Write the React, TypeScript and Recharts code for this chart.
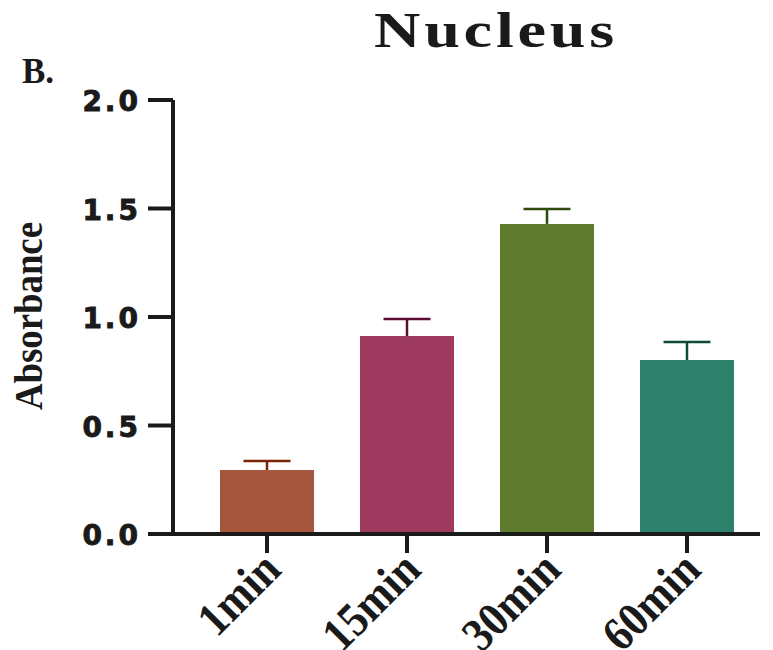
import React from "react";
import { BarChart, Bar, XAxis, YAxis, Cell } from "recharts";

const categories = ["1min", "15min", "30min", "60min"];
const means = [0.295, 0.912, 1.429, 0.802];
const sems = [0.041, 0.079, 0.069, 0.083];
const yTicks = [0, 0.5, 1.0, 1.5, 2.0];

const barColors = ["#A5563C", "#9E3A5E", "#5E7A2C", "#2D816A"];
const errColors = ["#7B2508", "#5C0C30", "#2E4A0C", "#0D4A3A"];

const data = categories.map((c, i) => ({ name: c, mean: means[i], sem: sems[i] }));

const INK = "#1a1a1a";

// rough Times Bold advance widths (em) to squeeze the labels a little
const EM: Record<string, number> = { m: 0.833, i: 0.278, n: 0.556 };
const emWidth = (s: string) =>
  s.split("").reduce((w, ch) => w + (EM[ch] ?? 0.5), 0);

// draws the upward half of the error bar on the stacked "sem" segment
const ErrShape = (props: any) => {
  const { x, y, width, height, index } = props;
  const cx = x + width / 2;
  const col = errColors[index];
  return (
    <g>
      <line x1={cx} y1={y + height} x2={cx} y2={y} stroke={col} strokeWidth={2.5} />
      <line x1={cx - 23.5} y1={y} x2={cx + 23.5} y2={y} stroke={col} strokeWidth={2.5} />
    </g>
  );
};

const XTick = (props: any) => {
  const { x, y, payload } = props;
  const fs = 48;
  const ax = x + 16;
  const ay = y + 17;
  return (
    <text
      x={ax}
      y={ay}
      transform={`rotate(-45 ${ax} ${ay})`}
      textAnchor="end"
      fill={INK}
      fontFamily="'Liberation Serif', serif"
      fontWeight="bold"
      fontSize={fs}
      textLength={emWidth(String(payload.value)) * fs * 0.9}
      lengthAdjust="spacingAndGlyphs"
    >
      {payload.value}
    </text>
  );
};

const YTick = (props: any) => {
  const { y, payload } = props;
  return (
    <text
      x={141}
      y={y + 11}
      textAnchor="end"
      fill={INK}
      stroke={INK}
      strokeWidth={0.9}
      fontFamily="'DejaVu Sans', sans-serif"
      fontWeight="bold"
      fontSize={28}
      letterSpacing={3}
    >
      {Number(payload.value).toFixed(1)}
    </text>
  );
};

export default function App() {
  return (
    <div style={{ position: "absolute", left: 0, top: 0, width: 773, height: 650, background: "#fff", overflow: "hidden" }}>
      <BarChart
        width={773}
        height={650}
        data={data}
        margin={{ top: 100, right: 13, left: 0, bottom: 0 }}
      >
        <XAxis
          dataKey="name"
          height={116}
          padding={{ left: 24, right: 3 }}
          axisLine={{ stroke: INK, strokeWidth: 4 }}
          tickLine={{ stroke: INK, strokeWidth: 4 }}
          tickSize={19}
          tick={<XTick />}
          interval={0}
        />
        <YAxis
          width={173}
          domain={[0, 2]}
          ticks={yTicks}
          axisLine={{ stroke: INK, strokeWidth: 4 }}
          tickLine={{ stroke: INK, strokeWidth: 4 }}
          tickSize={25}
          tick={<YTick />}
          label={{
            content: () => (
              <text
                x={42}
                y={316}
                transform="rotate(-90 42 316)"
                textAnchor="middle"
                fill={INK}
                fontFamily="'Liberation Serif', serif"
                fontWeight="bold"
                fontSize={40}
                textLength={188}
                lengthAdjust="spacingAndGlyphs"
              >
                Absorbance
              </text>
            ),
          }}
        />
        <Bar dataKey="mean" stackId="a" barSize={94} isAnimationActive={false}>
          {data.map((d, i) => (
            <Cell key={d.name} fill={barColors[i]} />
          ))}
        </Bar>
        <Bar dataKey="sem" stackId="a" barSize={94} shape={<ErrShape />} isAnimationActive={false} />
      </BarChart>
      <svg
        width={773}
        height={650}
        style={{ position: "absolute", left: 0, top: 0, pointerEvents: "none" }}
      >
        <text
          x={374}
          y={47}
          fill={INK}
          fontFamily="'Liberation Serif', serif"
          fontWeight="bold"
          fontSize={51}
          letterSpacing={3}
          textLength={244}
          lengthAdjust="spacingAndGlyphs"
        >
          Nucleus
        </text>
        <text
          x={22}
          y={83}
          fill={INK}
          fontFamily="'Liberation Serif', serif"
          fontWeight="bold"
          fontSize={35}
        >
          B.
        </text>
      </svg>
    </div>
  );
}
